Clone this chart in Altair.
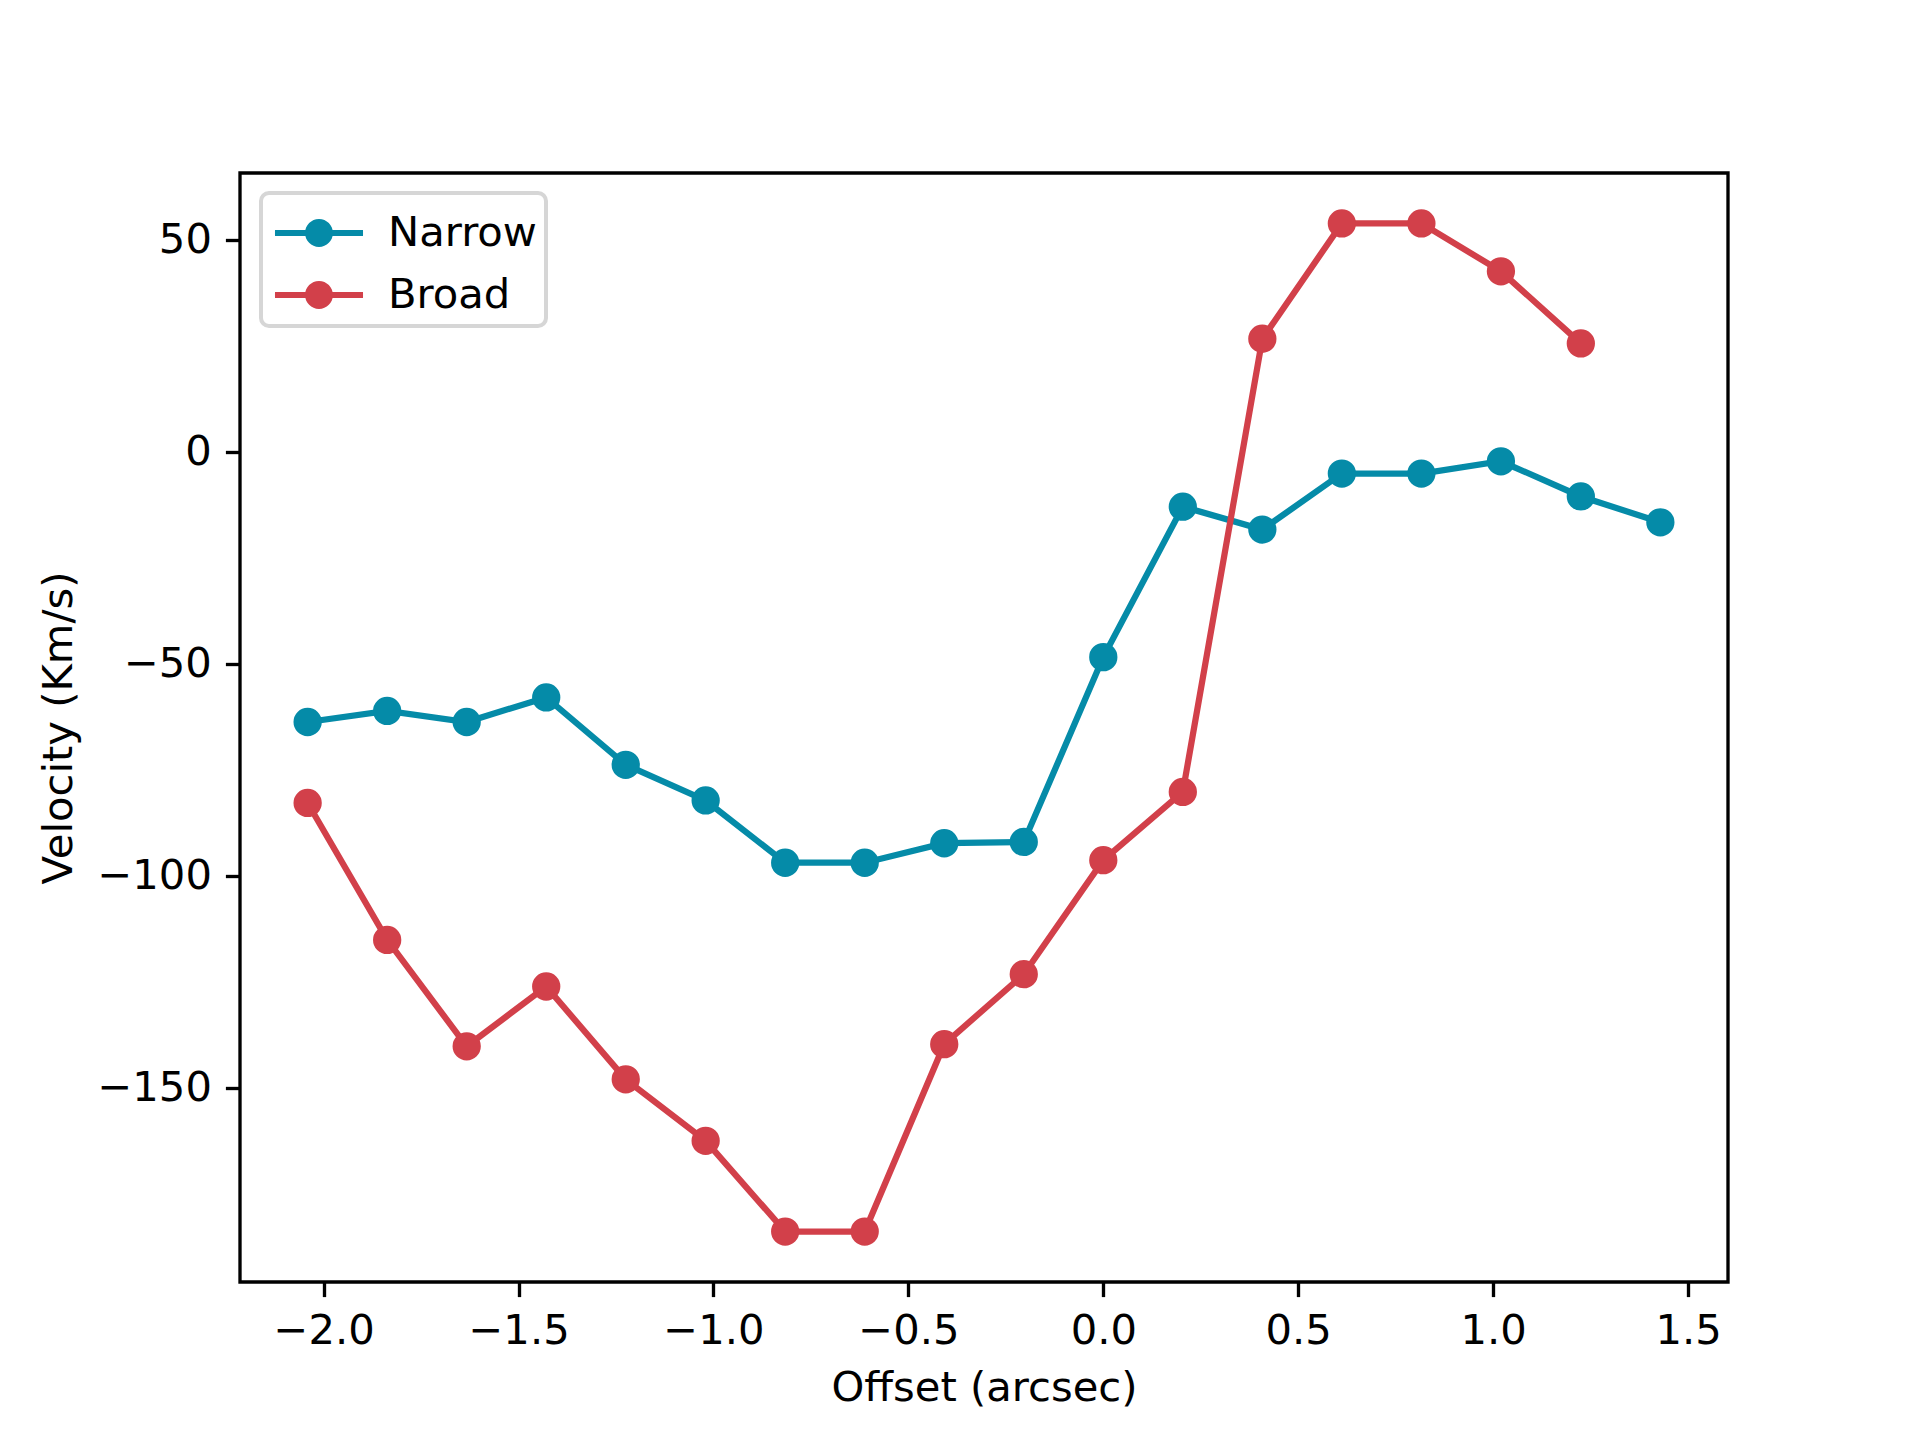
import altair as alt
import pandas as pd

offsets = [-2.041, -1.837, -1.633, -1.429, -1.225, -1.020, -0.816, -0.612, -0.408,
           -0.204, 0.0, 0.204, 0.408, 0.612, 0.816, 1.020, 1.225, 1.429]
narrow = [-63.7, -61.1, -63.7, -57.9, -73.8, -82.2, -96.9, -96.9, -92.3,
          -92.0, -48.4, -12.9, -18.3, -5.1, -5.1, -2.2, -10.5, -16.6]
broad = [-82.8, -115.1, -140.2, -126.1, -148.0, -162.5, -183.9, -183.9, -139.7,
         -123.2, -96.3, -80.2, 26.7, 53.9, 53.9, 42.6, 25.6]
series = ["Narrow", "Broad"]
colors = ["#058ba8", "#d2404a"]
x_ticks = [-2.0, -1.5, -1.0, -0.5, 0.0, 0.5, 1.0, 1.5]
y_ticks = [50, 0, -50, -100, -150]

rows = []
for i, v in enumerate(narrow):
    rows.append({"offset": offsets[i], "velocity": v, "series": "Narrow"})
for i, v in enumerate(broad):
    rows.append({"offset": offsets[i], "velocity": v, "series": "Broad"})
df = pd.DataFrame(rows)

FS = 41.7
FONT = "DejaVu Sans"

xenc = alt.X("offset:Q",
             scale=alt.Scale(domain=[-2.2145, 1.6025], nice=False, zero=False),
             axis=alt.Axis(values=x_ticks, format=".1f", title="Offset (arcsec)",
                           titleY=105, titleBaseline="middle"))
yenc = alt.Y("velocity:Q",
             scale=alt.Scale(domain=[-195.8, 65.8], nice=False, zero=False),
             axis=alt.Axis(values=y_ticks, format="d", title="Velocity (Km/s)",
                           titleX=-182, titleBaseline="middle"))
cscale = alt.Scale(domain=series, range=colors)

# legend symbol: a line with a filled marker in the middle (unit coords, scale = sqrt(size)/2)
sym_path = ("M-1.42,-0.1 L1.42,-0.1 L1.42,0.1 L-1.42,0.1 Z "
            "M0.45,0 C0.45,0.2485 0.2485,0.45 0,0.45 C-0.2485,0.45 -0.45,0.2485 -0.45,0 "
            "C-0.45,-0.2485 -0.2485,-0.45 0,-0.45 C0.2485,-0.45 0.45,-0.2485 0.45,0 Z")

# one line layer per series (constant colour, no legend of their own)
line_layers = [
    alt.Chart(df).transform_filter(alt.datum.series == s)
    .mark_line(color=c, strokeWidth=6.25)
    .encode(x=xenc, y=yenc, order="offset:Q")
    for s, c in zip(series, colors)
]

points = alt.Chart(df).mark_circle(size=800, opacity=1).encode(
    x=xenc, y=yenc,
    color=alt.Color("series:N", scale=cscale,
                    legend=alt.Legend(title=None,
                                      orient="none", legendX=21, legendY=20,
                                      symbolType=sym_path, symbolSize=3844,
                                      symbolStrokeWidth=0, symbolOpacity=1,
                                      symbolOffset=18, labelOffset=38,
                                      padding=9, rowPadding=9,
                                      labelFontSize=FS, labelFont=FONT, labelColor="black",
                                      strokeColor="#d6d6d6", fillColor="white",
                                      cornerRadius=8)),
)

chart = alt.layer(*line_layers, points).properties(
    width=1488, height=1109,
    autosize=alt.AutoSizeParams(type="none"),
    padding={"left": 232, "top": 165, "right": 184, "bottom": 150},
    background="white",
).configure_view(
    stroke="black", strokeWidth=3.33
).configure_axis(
    grid=False, domain=False,
    tickColor="black", tickWidth=3.33, tickSize=14.6,
    labelFont=FONT, labelFontSize=FS, labelColor="black", labelPadding=14,
    titleFont=FONT, titleFontSize=FS, titleFontWeight="normal", titleColor="black",
).configure_legend(
    strokeWidth=4
)

chart.save("out.html", embed_options={"renderer": "svg", "actions": False})
